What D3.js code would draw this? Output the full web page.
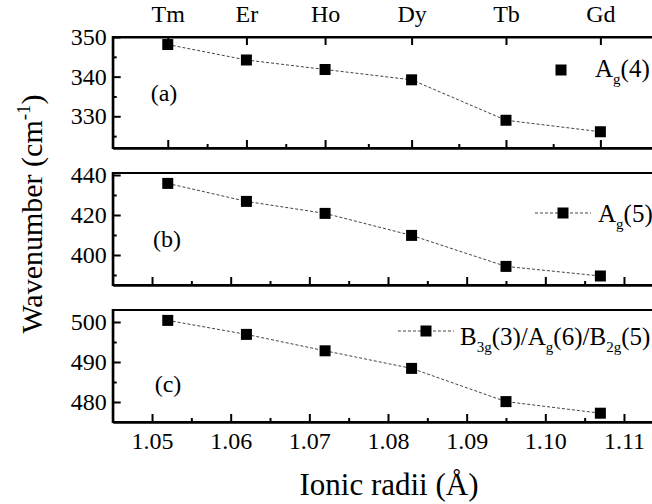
<!DOCTYPE html>
<html>
<head>
<meta charset="utf-8">
<script src="https://cdn.jsdelivr.net/npm/d3@7"></script>
<style>
  body { margin: 0; background: #fff; }
  svg { display: block; overflow: hidden; font-family: "Liberation Serif", "Times New Roman", serif; }
</style>
</head>
<body>
<div id="chart"></div>
<script>
// ionic radii (A) of the rare earth ions
var radii = [1.052, 1.062, 1.072, 1.083, 1.095, 1.107];
var elements = ["Tm", "Er", "Ho", "Dy", "Tb", "Gd"];

// wavenumbers (cm-1) of the three modes
var ag4 = [348.1, 344.2, 341.8, 339.2, 329.0, 326.1];
var ag5 = [435.8, 426.8, 420.8, 409.8, 394.3, 389.5];
var b3g = [500.4, 496.9, 492.8, 488.4, 480.1, 477.2];

var xTicks = [1.05, 1.06, 1.07, 1.08, 1.09, 1.10, 1.11];
var xMinor = [1.055, 1.065, 1.075, 1.085, 1.095, 1.105];
var elemMinor = [1.057, 1.067, 1.0775, 1.089, 1.101];

var yTicksA = [330, 340, 350], yMinorA = [325, 335, 345];
var yTicksB = [400, 420, 440], yMinorB = [390, 410, 430];
var yTicksC = [480, 490, 500], yMinorC = [485, 495];

var width = 652;
var height = 504;

var svg = d3.select('#chart')
    .append('svg')
    .attr('width', width)
    .attr('height', height);

var x = d3.scaleLinear()
    .domain([1.045, 1.115])
    .range([112.7, 663.3]);

var panels = [
    { id: 'a', values: ag4, domain: [322, 350], top: 37, bottom: 148, ticks: yTicksA, minor: yMinorA },
    { id: 'b', values: ag5, domain: [385, 441], top: 173, bottom: 285, ticks: yTicksB, minor: yMinorB },
    { id: 'c', values: b3g, domain: [475, 503], top: 310, bottom: 422, ticks: yTicksC, minor: yMinorC }
];

var labelPos = { a: [164, 101], b: [167, 247], c: [168, 392] };

panels.forEach(function (p) {
    var y = d3.scaleLinear().domain(p.domain).range([p.bottom, p.top]);
    var g = svg.append('g');

    // left axis
    var left = g.append('g')
        .attr('transform', 'translate(' + x(1.045) + ',0)')
        .call(d3.axisLeft(y).tickValues(p.ticks).tickSizeInner(-8).tickSizeOuter(0).tickPadding(6));
    g.append('g')
        .attr('transform', 'translate(' + x(1.045) + ',0)')
        .call(d3.axisLeft(y).tickValues(p.minor).tickSizeInner(-4).tickSizeOuter(0).tickFormat(''));

    // bottom axis
    if (p.id == 'a') {
        g.append('g')
            .attr('transform', 'translate(0,' + p.bottom + ')')
            .call(d3.axisBottom(x).tickValues(radii).tickSizeInner(-8).tickSizeOuter(0).tickFormat(''));
        g.append('g')
            .attr('transform', 'translate(0,' + p.bottom + ')')
            .call(d3.axisBottom(x).tickValues(elemMinor).tickSizeInner(-4).tickSizeOuter(0).tickFormat(''));
        g.append('g')
            .attr('class', 'elem')
            .attr('transform', 'translate(0,' + p.top + ')')
            .call(d3.axisTop(x).tickValues(radii).tickSizeInner(-8).tickSizeOuter(0).tickPadding(15)
                .tickFormat(function (d, i) { return elements[i]; }));
    } else {
        var bottom = g.append('g')
            .attr('transform', 'translate(0,' + p.bottom + ')')
            .call(d3.axisBottom(x).tickValues(xTicks).tickSizeInner(-8).tickSizeOuter(0).tickPadding(10)
                .tickFormat(p.id == 'c' ? d3.format('.2f') : ''));
        g.append('g')
            .attr('transform', 'translate(0,' + p.bottom + ')')
            .call(d3.axisBottom(x).tickValues(xMinor).tickSizeInner(-4).tickSizeOuter(0).tickFormat(''));
    }

    // frame
    g.append('rect')
        .attr('x', x(1.045))
        .attr('y', p.top)
        .attr('width', x(1.115) - x(1.045))
        .attr('height', p.bottom - p.top)
        .attr('fill', 'none')
        .attr('stroke', '#000')
        .attr('stroke-width', 2);

    // connecting dotted line
    if (p.id != 'a' || true) {
        var line = d3.line()
            .x(function (d, i) { return x(radii[i]); })
            .y(function (d) { return y(d); });
        g.append('path')
            .attr('d', line(p.values))
            .attr('fill', 'none')
            .attr('stroke', '#444')
            .attr('stroke-width', 1)
            .attr('stroke-dasharray', '3,2');
    }

    g.selectAll('rect.pt')
        .data(p.values)
        .enter()
        .append('rect')
        .attr('class', 'pt')
        .attr('x', function (d, i) { return x(radii[i]) - 5.5; })
        .attr('y', function (d) { return y(d) - 5.5; })
        .attr('width', 11)
        .attr('height', 11)
        .attr('fill', '#000');

    g.append('text')
        .attr('x', labelPos[p.id][0])
        .attr('y', labelPos[p.id][1])
        .attr('text-anchor', 'middle')
        .style('font-size', '24px')
        .text('(' + p.id + ')');
});

svg.selectAll('.tick text').style('font-size', '24px').style('font-family', '"Liberation Serif", serif').attr('fill', '#000');
svg.selectAll('.tick line').attr('stroke-width', 2);
svg.selectAll('.domain').attr('stroke-width', 2);

// legends
function legend(sx, sy, tx, ty, withLine, parts) {
    var lg = svg.append('g');
    if (withLine) {
        lg.append('line')
            .attr('x1', sx - 28).attr('x2', sx + 28)
            .attr('y1', sy).attr('y2', sy)
            .attr('stroke', '#444')
            .attr('stroke-width', 1)
            .attr('stroke-dasharray', '3,2');
    }
    lg.append('rect')
        .attr('x', sx - 5.5).attr('y', sy - 5.5)
        .attr('width', 11).attr('height', 11)
        .attr('fill', '#000');
    var t = lg.append('text')
        .attr('x', tx).attr('y', ty)
        .style('font-size', '25px');
    parts.forEach(function (s) {
        if (s[1]) {
            t.append('tspan').attr('dy', 7).style('font-size', '15px').text(s[0]);
        } else {
            t.append('tspan').attr('dy', s[2] ? -7 : 0).text(s[0]);
        }
    });
}

legend(561, 70, 595, 77, false, [['A'], ['g', 1], ['(4)', 0, 1]]);
legend(563, 213, 598, 222, true, [['A'], ['g', 1], ['(5)', 0, 1]]);
legend(426, 331, 460, 345, true, [['B'], ['3g', 1], ['(3)/A', 0, 1], ['g', 1], ['(6)/B', 0, 1], ['2g', 1], ['(5)', 0, 1]]);

// axis titles
svg.append('text')
    .attr('x', 389)
    .attr('y', 495)
    .attr('text-anchor', 'middle')
    .style('font-size', '31px')
    .text('Ionic radii (\u00C5)');

var yt = svg.append('text')
    .attr('transform', 'translate(42,214) rotate(-90)')
    .attr('text-anchor', 'middle')
    .style('font-size', '30px');
yt.append('tspan').text('Wavenumber (cm');
yt.append('tspan').attr('dy', -12).style('font-size', '19px').text('-1');
yt.append('tspan').attr('dy', 12).text(')');
</script>
</body>
</html>
